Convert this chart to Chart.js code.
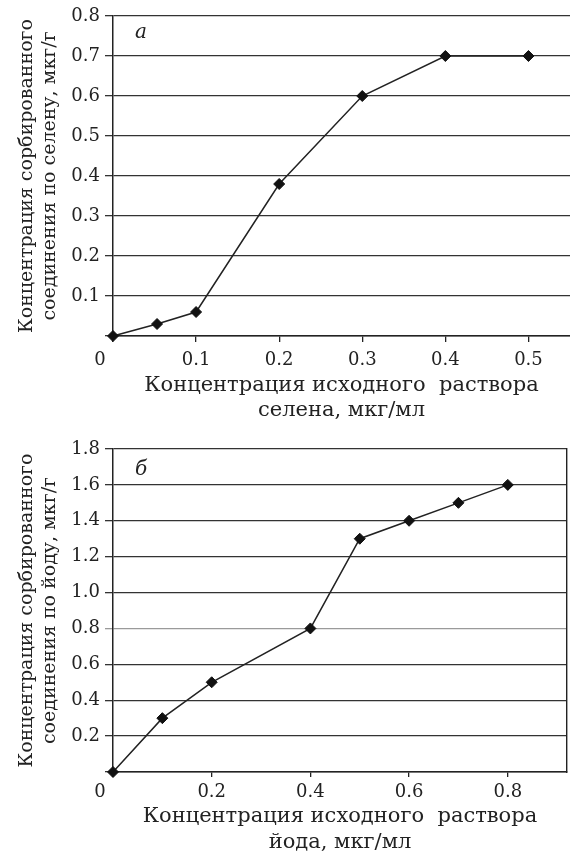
<!DOCTYPE html>
<html>
<head>
<meta charset="utf-8">
<script src="https://cdn.jsdelivr.net/npm/chart.js@4.4.1/dist/chart.umd.min.js"></script>
<style>
  html, body { margin: 0; padding: 0; background: #fff; overflow: hidden; }
  body { width: 570px; height: 852px; position: relative; }
  canvas { position: absolute; left: 0; }
  #grafSelen { top: 0; }
  #grafIod { top: 424px; }
</style>
</head>
<body>
<canvas id="grafSelen" width="570" height="424"></canvas>
<canvas id="grafIod" width="570" height="436"></canvas>
<script>
// а: селен
var selenX = [0, 0.053, 0.1, 0.2, 0.3, 0.4, 0.5];
var selenY = [0, 0.03, 0.06, 0.38, 0.6, 0.7, 0.7];
var selenTitulosY = ['Концентрация сорбированного', 'соединения по селену, мкг/г'];
var selenTitulosX = ['Концентрация исходного  раствора', 'селена, мкг/мл'];

// б: йод
var iodX = [0, 0.1, 0.2, 0.4, 0.5, 0.6, 0.7, 0.8];
var iodY = [0, 0.3, 0.5, 0.8, 1.3, 1.4, 1.5, 1.6];
var iodTitulosY = ['Концентрация сорбированного', 'соединения по йоду, мкг/г'];
var iodTitulosX = ['Концентрация исходного  раствора', 'йода, мкг/мл'];

var FONTE = '"DejaVu Serif", "Liberation Serif", serif';
var COR = '#222';

Chart.defaults.font.family = FONTE;
Chart.defaults.color = COR;

// letra do painel e o "0" deslocado do eixo x
var pluginPainel = {
	id: 'painel',
	afterDraw: function(chart, args, opts) {
		var ctx = chart.ctx;
		var area = chart.chartArea;
		var sx = chart.scales.x;
		ctx.save();
		ctx.fillStyle = COR;
		ctx.font = 'italic 20px ' + FONTE;
		ctx.textBaseline = 'alphabetic';
		ctx.textAlign = 'left';
		ctx.fillText(opts.letra, area.left + 22, area.top + opts.dy);
		ctx.font = '18px ' + FONTE;
		ctx.textAlign = 'center';
		ctx.textBaseline = 'middle';
		var y = sx.top + sx.options.grid.tickLength + sx.options.ticks.padding + 10.8;
		ctx.fillText('0', sx.getPixelForValue(0) - 13, y);
		ctx.restore();
	}
};

function pontos(xs, ys) {
	return xs.map(function(x, i) { return { x: x, y: ys[i] }; });
}

function rotulo(v) {
	return Math.abs(v) < 1e-9 ? '' : v.toFixed(1);
}

function criarGrafico(id, o) {
	var eixoDireito = o.bordaDireita ? {
		y2: {
			position: 'right',
			ticks: { display: false },
			grid: { drawOnChartArea: false, drawTicks: false },
			border: { display: true, color: COR, width: 1.4 }
		}
	} : {};

	var escalas = Object.assign({
		x: {
			type: 'linear',
			min: 0,
			max: o.xMax,
			afterFit: function(s) { s.height = o.alturaX; },
			ticks: { stepSize: o.passoX, includeBounds: false, padding: o.padX, maxRotation: 0, autoSkip: false, font: { size: 18 }, callback: rotulo },
			grid: { drawOnChartArea: false, tickLength: o.tickX, color: COR, lineWidth: 1.3 },
			border: { color: COR, width: 1.5 },
			title: { display: true, text: o.titulosX, font: { size: 21, lineHeight: o.lhX }, padding: { top: 0, bottom: o.padTituloX } }
		},
		y: {
			min: 0,
			max: o.yMax,
			afterFit: function(s) { s.width = 113; },
			ticks: { stepSize: o.passoY, padding: 5, font: { size: 18 }, callback: rotulo },
			grid: {
				tickLength: 8,
				lineWidth: 1.3,
				color: function(c) { return (o.linhaClara !== undefined && Math.abs(c.tick.value - o.linhaClara) < 1e-6) ? '#9a9a9a' : '#333'; }
			},
			border: { color: COR, width: 1.5 },
			title: { display: true, text: o.titulosY, font: { size: 19, lineHeight: 1.21 }, padding: { top: 16, bottom: 0 } }
		}
	}, eixoDireito);

	return new Chart(document.getElementById(id).getContext('2d'), {
		type: 'scatter',
		data: {
			datasets: [{
				data: pontos(o.xs, o.ys),
				showLine: true,
				borderColor: COR,
				borderWidth: 1.5,
				pointStyle: 'rectRot',
				pointRadius: 5.5,
				pointHoverRadius: 5.5,
				pointBackgroundColor: '#111',
				pointBorderColor: '#111',
				pointBorderWidth: 1,
				clip: false
			}]
		},
		options: {
			responsive: false,
			animation: false,
			layout: { autoPadding: false, padding: { top: o.topo, right: o.direita, bottom: 0, left: 0 } },
			scales: escalas,
			plugins: {
				legend: { display: false },
				tooltip: { enabled: false },
				painel: { letra: o.letra, dy: o.letraDy }
			}
		},
		plugins: [pluginPainel]
	});
}

criarGrafico('grafSelen', {
	xs: selenX, ys: selenY,
	titulosX: selenTitulosX, titulosY: selenTitulosY,
	xMax: 0.55, passoX: 0.1, yMax: 0.8, passoY: 0.1,
	alturaX: 88, tickX: 6, padX: 8, lhX: 1.19, padTituloX: 0.8,
	topo: 16, direita: 0, bordaDireita: false,
	letra: 'а', letraDy: 22
});

criarGrafico('grafIod', {
	xs: iodX, ys: iodY,
	titulosX: iodTitulosX, titulosY: iodTitulosY,
	xMax: 0.92, passoX: 0.2, yMax: 1.8, passoY: 0.2,
	alturaX: 88, tickX: 5, padX: 5, lhX: 1.24, padTituloX: 4.3,
	topo: 25, direita: 3, bordaDireita: true, linhaClara: 0.8,
	letra: 'б', letraDy: 26
});
</script>
</body>
</html>
